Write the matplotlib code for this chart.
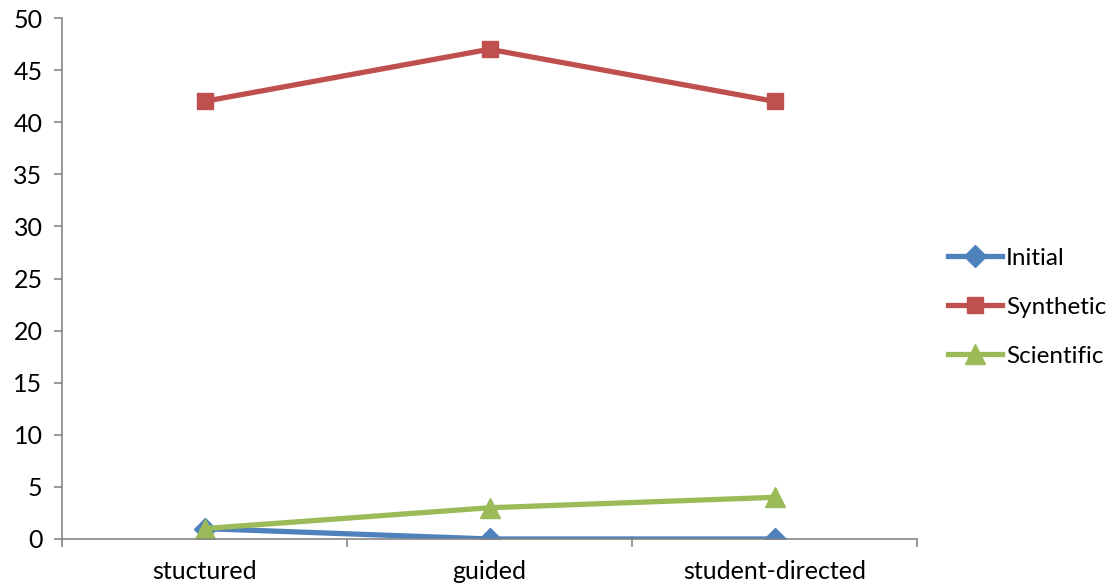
import matplotlib.pyplot as plt
from matplotlib.ticker import FixedLocator

plt.rcParams['font.family'] = ['Lato', 'DejaVu Sans']

categories = ["stuctured", "guided", "student-directed"]
initial = [1, 0, 0]
synthetic = [42, 47, 42]
scientific = [1, 3, 4]

fig = plt.figure(figsize=(11.14, 5.88), dpi=100)
ax = fig.add_axes([62 / 1114, 49 / 588, 855 / 1114, 521 / 588])

x = range(len(categories))
ax.plot(x, initial, color='#4F81BD', lw=3.8, marker='D', ms=11, label='Initial')
ax.plot(x, synthetic, color='#C0504D', lw=3.8, marker='s', ms=12, label='Synthetic')
ax.plot(x, scientific, color='#9BBB59', lw=3.8, marker='^', ms=14, label='Scientific')

ax.set_xlim(-0.5, len(categories) - 0.5)
ax.set_ylim(0, 50)
ax.set_yticks(range(0, 51, 5))
ax.set_xticks(list(x))
ax.set_xticklabels(categories)
ax.xaxis.set_minor_locator(FixedLocator([i - 0.5 for i in range(len(categories) + 1)]))

for side in ['top', 'right']:
    ax.spines[side].set_visible(False)
for side in ['left', 'bottom']:
    ax.spines[side].set_color('#868686')
    ax.spines[side].set_linewidth(1.2)

ax.tick_params(axis='y', length=6, width=1.2, color='#868686', labelsize=18, pad=8)
ax.tick_params(axis='x', which='major', length=0, labelsize=18, pad=15)
ax.tick_params(axis='x', which='minor', length=6, width=1.2, color='#868686')

ax.legend(loc='center left', bbox_to_anchor=(1.036, 0.445), frameon=False, fontsize=17.5,
          handlelength=2.25, handletextpad=0.15, labelspacing=1.15, borderpad=0,
          borderaxespad=0)

fig.savefig('out.png', dpi=100)
